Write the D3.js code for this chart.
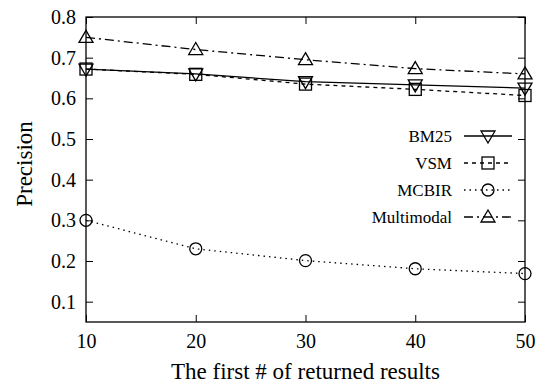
<!DOCTYPE html>
<html><head><meta charset="utf-8">
<script src="https://cdn.jsdelivr.net/npm/d3@7"></script>
<style>body{margin:0;background:#fff}svg{display:block}</style>
</head><body><svg id="c" width="539" height="385" font-family="Liberation Serif"></svg>
<script>
const xValues = [10, 20, 30, 40, 50];
const bm25 = [0.672, 0.660, 0.641, 0.633, 0.625];
const vsm = [0.672, 0.659, 0.635, 0.622, 0.607];
const mcbir = [0.300, 0.230, 0.201, 0.181, 0.169];
const multimodal = [0.750, 0.720, 0.695, 0.673, 0.660];
const seriesNames = ["BM25", "VSM", "MCBIR", "Multimodal"];
const yTicks = [0.1, 0.2, 0.3, 0.4, 0.5, 0.6, 0.7, 0.8];
const xTicks = [10, 20, 30, 40, 50];

const series = [
  {name: seriesNames[0], values: bm25, dash: null, marker: "tdown"},
  {name: seriesNames[1], values: vsm, dash: "4,4", marker: "square"},
  {name: seriesNames[2], values: mcbir, dash: "1.5,4", marker: "circle"},
  {name: seriesNames[3], values: multimodal, dash: "9,4,2,4", marker: "tup"}
];

const FONT = "Liberation Serif";
const svg = d3.select("#c");
const L = 86, R = 525, T = 17, B = 322;
const x = d3.scaleLinear().domain([10, 50]).range([L, R]);
const y = d3.scaleLinear().domain([0.05, 0.8]).range([B, T]);

const tl = 7;
const gx = svg.append("g").attr("transform", `translate(0,${B})`)
  .call(d3.axisBottom(x).tickValues(xTicks).tickSize(-tl).tickPadding(tl + 5).tickFormat(d3.format("d")));
const gxt = svg.append("g").attr("transform", `translate(0,${T})`)
  .call(d3.axisTop(x).tickValues(xTicks).tickSize(-tl).tickFormat(""));
const gy = svg.append("g").attr("transform", `translate(${L},0)`)
  .call(d3.axisLeft(y).tickValues(yTicks).tickSize(-tl).tickPadding(tl + 3).tickFormat(d3.format(".1f")));
const gyr = svg.append("g").attr("transform", `translate(${R},0)`)
  .call(d3.axisRight(y).tickValues(yTicks).tickSize(-tl).tickFormat(""));
[gx, gxt, gy, gyr].forEach(g => {
  g.attr("font-family", FONT).attr("font-size", 20);
  g.select(".domain").remove();
  g.selectAll(".tick line").attr("stroke", "#000").attr("stroke-width", 1);
  g.selectAll("text").attr("font-family", FONT).attr("font-size", 20).attr("fill", "#000");
});
svg.append("rect").attr("x", L).attr("y", T).attr("width", R - L).attr("height", B - T)
  .attr("fill", "none").attr("stroke", "#000").attr("stroke-width", 1.3);

svg.append("text").attr("x", (L + R) / 2).attr("y", 379).attr("text-anchor", "middle")
  .attr("font-family", FONT).attr("font-size", 23).text("The first # of returned results");
svg.append("text").attr("transform", `translate(32,164) rotate(-90)`).attr("text-anchor", "middle")
  .attr("font-family", FONT).attr("font-size", 23).text("Precision");

function drawMarker(g, type, cx, cy) {
  const s = 6;
  if (type === "circle") {
    g.append("circle").attr("cx", cx).attr("cy", cy).attr("r", s).attr("fill", "none").attr("stroke", "#000").attr("stroke-width", 1.3);
  } else if (type === "square") {
    g.append("rect").attr("x", cx - s).attr("y", cy - s).attr("width", 2 * s).attr("height", 2 * s).attr("fill", "none").attr("stroke", "#000").attr("stroke-width", 1.3);
  } else if (type === "tup") {
    g.append("path").attr("d", `M${cx},${cy - s - 1}L${cx + s + 1},${cy + s - 1}L${cx - s - 1},${cy + s - 1}Z`).attr("fill", "none").attr("stroke", "#000").attr("stroke-width", 1.3);
  } else {
    g.append("path").attr("d", `M${cx},${cy + s + 1}L${cx + s + 1},${cy - s + 1}L${cx - s - 1},${cy - s + 1}Z`).attr("fill", "none").attr("stroke", "#000").attr("stroke-width", 1.3);
  }
}

const line = d3.line().x((d, i) => x(xValues[i])).y(d => y(d));
series.forEach(s => {
  const g = svg.append("g");
  g.append("path").datum(s.values).attr("d", line).attr("fill", "none").attr("stroke", "#000")
    .attr("stroke-width", 1.3).attr("stroke-dasharray", s.dash);
  s.values.forEach((v, i) => drawMarker(g, s.marker, x(xValues[i]), y(v)));
});

const lx0 = 464, lx1 = 512, ly0 = 136, ldy = 27;
series.forEach((s, i) => {
  const g = svg.append("g");
  const yy = ly0 + i * ldy;
  g.append("text").attr("x", 452).attr("y", yy).attr("dy", "0.35em").attr("text-anchor", "end")
    .attr("font-family", FONT).attr("font-size", 17).text(s.name);
  g.append("line").attr("x1", lx0).attr("x2", lx1).attr("y1", yy).attr("y2", yy)
    .attr("stroke", "#000").attr("stroke-width", 1.3).attr("stroke-dasharray", s.dash);
  drawMarker(g, s.marker, (lx0 + lx1) / 2, yy);
});
</script></body></html>
